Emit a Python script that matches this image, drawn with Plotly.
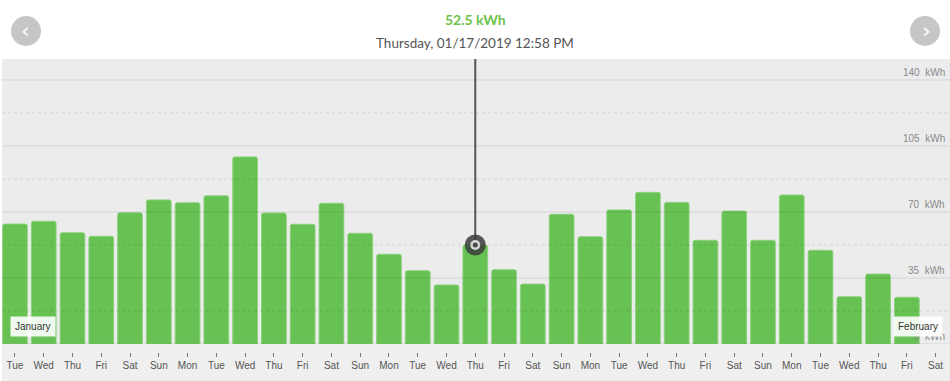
import plotly.graph_objects as go

# ---- data ----
dates = ["2019-01-%02d" % d for d in range(1, 32)] + ["2019-02-01", "2019-02-02"]
day_labels = ["Tue", "Wed", "Thu", "Fri", "Sat", "Sun", "Mon",
              "Tue", "Wed", "Thu", "Fri", "Sat", "Sun", "Mon",
              "Tue", "Wed", "Thu", "Fri", "Sat", "Sun", "Mon",
              "Tue", "Wed", "Thu", "Fri", "Sat", "Sun", "Mon",
              "Tue", "Wed", "Thu", "Fri", "Sat"]
energy_kwh = [63.6, 65.1, 59.0, 57.1, 69.6, 76.4, 74.9, 78.6, 99.2, 69.5, 63.5,
              74.6, 58.7, 47.6, 38.9, 31.3, 52.5, 39.4, 31.8, 68.8, 56.9,
              71.1, 80.4, 75.1, 55.0, 70.5, 55.0, 79.0, 49.7, 25.1, 37.1, 24.8, None]
y_ticks = [0, 35, 70, 105, 140]
y_minor = [17.5, 52.5, 87.5, 122.5]
selected_date = "2019-01-17"
selected_value = 52.5
header_value = "52.5 kWh"
header_date = "Thursday, 01/17/2019 12:58 PM"
month_labels = ["January", "February"]

GREEN = "#67c253"
W, H = 950, 381
ML, MT = 2, 59
PH = H - MT  # paper height in px


def py(ypix):
    return (H - ypix) / PH


def px(xpix):
    return (xpix - ML) / (W - ML)


fig = go.Figure()
fig.add_trace(go.Bar(
    x=dates, y=energy_kwh,
    marker=dict(color=GREEN, line=dict(color="rgba(140,210,125,0.9)", width=1), cornerradius=2),
    hoverinfo="skip", showlegend=False,
))

# selected point marker (ring)
fig.add_trace(go.Scatter(x=[selected_date], y=[selected_value], mode="markers",
                         marker=dict(size=21, color="rgba(60,60,60,0.85)", line=dict(width=0)),
                         hoverinfo="skip", showlegend=False))
fig.add_trace(go.Scatter(x=[selected_date], y=[selected_value], mode="markers",
                         marker=dict(size=10, color="#d6d6d6", line=dict(width=0)),
                         hoverinfo="skip", showlegend=False))
fig.add_trace(go.Scatter(x=[selected_date], y=[selected_value], mode="markers",
                         marker=dict(size=5, color="#4a4a4a", line=dict(width=0)),
                         hoverinfo="skip", showlegend=False))

shapes = []
# bottom tick strip background
shapes.append(dict(type="rect", xref="paper", yref="paper", x0=0, x1=1, y0=0, y1=py(344),
                   fillcolor="#efefef", line=dict(width=0), layer="below"))
# vertical cursor line (under the marker)
shapes.append(dict(type="line", xref="x", yref="y", x0=selected_date, x1=selected_date,
                   y0=selected_value, y1=151.1, line=dict(color="#555555", width=2), layer="below"))
# gridlines drawn above bars
for v in y_ticks:
    shapes.append(dict(type="line", xref="paper", yref="y", x0=0, x1=1, y0=v, y1=v,
                       line=dict(color="rgba(0,0,0,0.10)", width=1), layer="above"))
for v in y_minor:
    shapes.append(dict(type="line", xref="paper", yref="y", x0=0, x1=1, y0=v, y1=v,
                       line=dict(color="rgba(0,0,0,0.10)", width=1, dash="dot"), layer="above"))
# nav circles
for cx in (26, 925):
    shapes.append(dict(type="circle", xref="paper", yref="paper",
                       xsizemode="pixel", ysizemode="pixel",
                       xanchor=px(cx), yanchor=py(31), x0=-15, x1=15, y0=-15, y1=15,
                       fillcolor="#c6c6c6", line=dict(width=0), layer="below"))

annotations = []
annotations.append(dict(text="<b>%s</b>" % header_value, xref="paper", yref="paper",
                        x=px(475), y=py(20), xanchor="center", yanchor="middle", showarrow=False,
                        font=dict(family="Lato", size=14, color="#6cc24a")))
annotations.append(dict(text=header_date, xref="paper", yref="paper",
                        x=px(475), y=py(43), xanchor="center", yanchor="middle", showarrow=False,
                        font=dict(family="Lato", size=13.5, color="#555555")))
annotations.append(dict(text="‹", xref="paper", yref="paper", x=px(25), y=py(30),
                        xanchor="center", yanchor="middle",
                        showarrow=False, font=dict(family="DejaVu Sans", size=22, color="white")))
annotations.append(dict(text="›", xref="paper", yref="paper", x=px(926), y=py(30),
                        xanchor="center", yanchor="middle",
                        showarrow=False, font=dict(family="DejaVu Sans", size=22, color="white")))
for v in y_ticks:
    annotations.append(dict(text="%g\u00a0\u00a0kWh" % v, xref="paper", yref="y",
                            x=px(947), y=v, xanchor="right", yanchor="bottom", yshift=0,
                            showarrow=False,
                            font=dict(family="Liberation Sans", size=10, color="#8a8a8a")))
annotations.append(dict(text=month_labels[0], xref="paper", yref="paper",
                        x=px(10), y=py(326.5), xanchor="left", yanchor="middle",
                        showarrow=False, bgcolor="rgba(255,255,255,0.9)", borderpad=4,
                        font=dict(family="Liberation Sans", size=10, color="#333333")))
annotations.append(dict(text=month_labels[1], xref="paper", yref="paper",
                        x=px(943), y=py(326), xanchor="right", yanchor="middle",
                        showarrow=False, bgcolor="rgba(255,255,255,0.9)", borderpad=4,
                        font=dict(family="Liberation Sans", size=10, color="#333333")))

fig.update_layout(
    width=W, height=H,
    margin=dict(l=ML, r=0, t=MT, b=0, pad=0),
    paper_bgcolor="white",
    plot_bgcolor="#ececec",
    bargap=0.14,
    shapes=shapes,
    annotations=annotations,
    xaxis=dict(type="category", range=[-0.45, 32.5],
               tickmode="array", tickvals=dates, ticktext=day_labels,
               anchor="free", position=py(352),
               ticks="outside", ticklen=4, tickwidth=1, tickcolor="#777777",
               showline=False, showgrid=False, zeroline=False,
               tickfont=dict(family="Liberation Sans", size=10, color="#555555"),
               fixedrange=True),
    yaxis=dict(range=[0, 151.1], domain=[py(344), 1],
               showgrid=False, zeroline=False, showticklabels=False, showline=False,
               fixedrange=True),
)

fig.write_html("out.html", config={"displayModeBar": False},
               post_script="document.body.style.margin='0';document.body.style.overflow='hidden';")
